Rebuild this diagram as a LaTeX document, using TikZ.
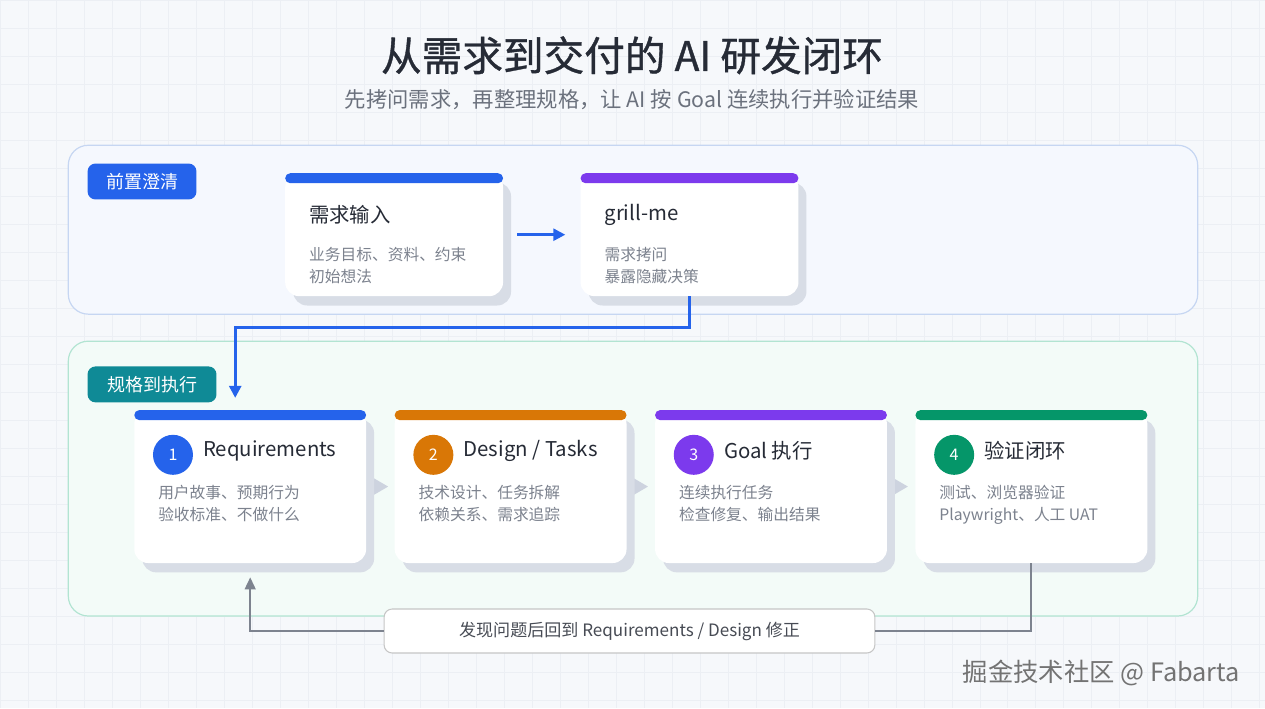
\documentclass[tikz,border=0pt]{standalone}
\usepackage{fontspec}
\setmainfont{Noto Sans CJK SC}
\newfontfamily\titlefont[FakeBold=0.9]{Noto Sans CJK SC}
\usetikzlibrary{positioning,calc,shadows,arrows.meta}
\definecolor{bgc}{HTML}{F6F8FB}
\definecolor{gridc}{HTML}{ECEFF4}
\definecolor{inkc}{HTML}{262B36}
\definecolor{subc}{HTML}{6B717D}
\definecolor{descc}{HTML}{7C828E}
\definecolor{shadowc}{HTML}{D8DDE6}
\definecolor{bluec}{HTML}{2563EB}
\definecolor{orangec}{HTML}{D97706}
\definecolor{purplec}{HTML}{7C3AED}
\definecolor{greenc}{HTML}{059669}
\definecolor{tealc}{HTML}{0F8A96}
\definecolor{chevc}{HTML}{CDD3DF}
\definecolor{loopc}{HTML}{7D838F}
\definecolor{prefill}{HTML}{F5F8FE}
\definecolor{preline}{HTML}{C6D6F2}
\definecolor{specfill}{HTML}{F3FBF8}
\definecolor{specline}{HTML}{B2E4D2}
\tikzset{card/.style={rounded corners=10.5pt,fill=white,inner sep=0pt,
            general shadow={fill=shadowc,shadow xshift=6pt,shadow yshift=-7pt}},
         top card/.style={card,minimum width=163.5pt,minimum height=92.25pt},
         step card/.style={card,minimum width=174pt,minimum height=114.75pt},
         bar/.style={fill=#1,rounded corners=3.75pt,inner sep=0pt,minimum height=7.5pt,anchor=north},
         num/.style={circle,fill=#1,text=white,minimum size=30pt,inner sep=0pt,font=\fontsize{12}{14}\selectfont},
         head/.style={anchor=west,inner sep=0pt,text=inkc,font=\fontsize{15.3}{18}\selectfont},
         desc/.style={anchor=north west,inner sep=0pt,align=left,text=descc,font=\fontsize{11.8}{16.5}\selectfont},
         tag/.style={fill=#1,text=white,rounded corners=6pt,anchor=north west,inner sep=0pt,
            minimum height=27pt,font=\fontsize{13.5}{15}\selectfont},
         panel/.style={fill=#1fill,draw=#1line,line width=0.9pt,rounded corners=15pt,minimum width=847.5pt},
         chev/.style={draw=chevc,line width=1pt,shorten >=4.5pt,-{Triangle[length=10.5pt,width=12pt]}},
         bluelink/.style={draw=bluec,line width=2pt,-{Triangle[length=9pt,width=9pt]}},
         looplink/.style={draw=loopc,line width=1.6pt},
            }

\begin{document}
\begin{tikzpicture}[x=0.75pt,y=-0.75pt]
    % background
    \fill[bgc] (0,0) rectangle (1265,708);
    \foreach \gx in {0,28,...,1265} \draw[gridc,line width=0.5pt] (\gx,0) -- (\gx,708);
    \foreach \gy in {0,28,...,708} \draw[gridc,line width=0.5pt] (0,\gy) -- (1265,\gy);

    \node[text=inkc,font=\fontsize{30.5}{34}\titlefont] (title) at (632,55) {从需求到交付的 AI 研发闭环};
    \node[text=subc,font=\fontsize{16}{19}\selectfont] (subtitle) at (632,99) {先拷问需求，再整理规格，让 AI 按 Goal 连续执行并验证结果};

    % panels
    \node[panel=pre,minimum height=126.75pt] (pre) at (633,229.5) {};
    \node[panel=spec,minimum height=206.25pt] (spec) at (633,478.5) {};
    \node[tag=bluec,minimum width=81.75pt] (pretag) at (87,163) {前置澄清};
    \node[tag=tealc,minimum width=96.75pt] (spectag) at (87,366) {规格到执行};

    % top row
    \node[top card] (need) at (394,234.5) {};
    \node[top card] (grill) [right=57.75pt of need] {};
    \node[bar=bluec,minimum width=163.5pt] at (need.north) {};
    \node[bar=purplec,minimum width=163.5pt] at (grill.north) {};
    \node[head] (needhead) at ($(need.north west)+(24,42)$) {需求输入};
    \node[desc] (needdesc) at ($(need.north west)+(24,74)$) {业务目标、资料、约束\\初始想法};
    \node[head] (grillhead) at ($(grill.north west)+(24,42)$) {grill-me};
    \node[desc] (grilldesc) at ($(grill.north west)+(24,74)$) {需求拷问\\暴露隐藏决策};
    \draw[bluelink,shorten <=10.5pt,shorten >=11.25pt] (need.east) -- (grill.west);

    % chevrons between steps (drawn under the cards)
    \coordinate (r1c) at (250,486.5);
    \path (r1c) ++(260,0) coordinate (r2c) ++(260,0) coordinate (r3c) ++(260,0) coordinate (r4c);
    \draw[chev] ($(r1c)+(116,0)$) -- ($(r2c)+(-116,0)$);
    \draw[chev] ($(r2c)+(116,0)$) -- ($(r3c)+(-116,0)$);
    \draw[chev] ($(r3c)+(116,0)$) -- ($(r4c)+(-116,0)$);

    % step row
    \node[step card] (req) at (r1c) {};
    \node[step card] (des) [right=21pt of req] {};
    \node[step card] (goal) [right=21pt of des] {};
    \node[step card] (ver) [right=21pt of goal] {};
    \node[bar=bluec,minimum width=174pt] at (req.north) {};
    \node[bar=orangec,minimum width=174pt] at (des.north) {};
    \node[bar=purplec,minimum width=174pt] at (goal.north) {};
    \node[bar=greenc,minimum width=174pt] at (ver.north) {};

    \node[num=bluec] (n1) at ($(req.north west)+(39,45)$) {1};
    \node[num=orangec] (n2) at ($(des.north west)+(39,45)$) {2};
    \node[num=purplec] (n3) at ($(goal.north west)+(39,45)$) {3};
    \node[num=greenc] (n4) at ($(ver.north west)+(39,45)$) {4};
    \node[head] (reqhead) at ($(req.north west)+(69,41)$) {Requirements};
    \node[head] (deshead) at ($(des.north west)+(69,41)$) {Design / Tasks};
    \node[head] (goalhead) at ($(goal.north west)+(69,41)$) {Goal 执行};
    \node[head] (verhead) at ($(ver.north west)+(69,41)$) {验证闭环};
    \node[desc] (reqdesc) at ($(req.north west)+(24,75)$) {用户故事、预期行为\\验收标准、不做什么};
    \node[desc] (desdesc) at ($(des.north west)+(24,75)$) {技术设计、任务拆解\\依赖关系、需求追踪};
    \node[desc] (goaldesc) at ($(goal.north west)+(24,75)$) {连续执行任务\\检查修复、输出结果};
    \node[desc] (verdesc) at ($(ver.north west)+(24,75)$) {测试、浏览器验证\\Playwright、人工 UAT};

    % hand-over from clarification to spec
    \coordinate (drop) at ($(req.north)+(-15,-12)$);
    \draw[bluelink] (grill.south) -- ++(0,31) -| (drop);

    % feedback loop
    \node[draw=gray!45,fill=white,rounded corners=6pt,line width=0.8pt,minimum width=368.25pt,minimum height=33pt,
          text=inkc!85,font=\fontsize{12.8}{15}\selectfont] (fb) at (629.5,631) {发现问题后回到 Requirements / Design 修正};
    \coordinate (rise) at ($(req.south)+(0,14)$);
    \draw[looplink] (ver.south) |- (fb.east);
    \draw[looplink,-{Triangle[length=9pt,width=8pt]}] (fb.west) -| (rise);

    \node[anchor=east,text=gray!90!black,font=\fontsize{19}{21}\selectfont] (mark) at (1245,673) {掘金技术社区 @ Fabarta};
\end{tikzpicture}
\end{document}
